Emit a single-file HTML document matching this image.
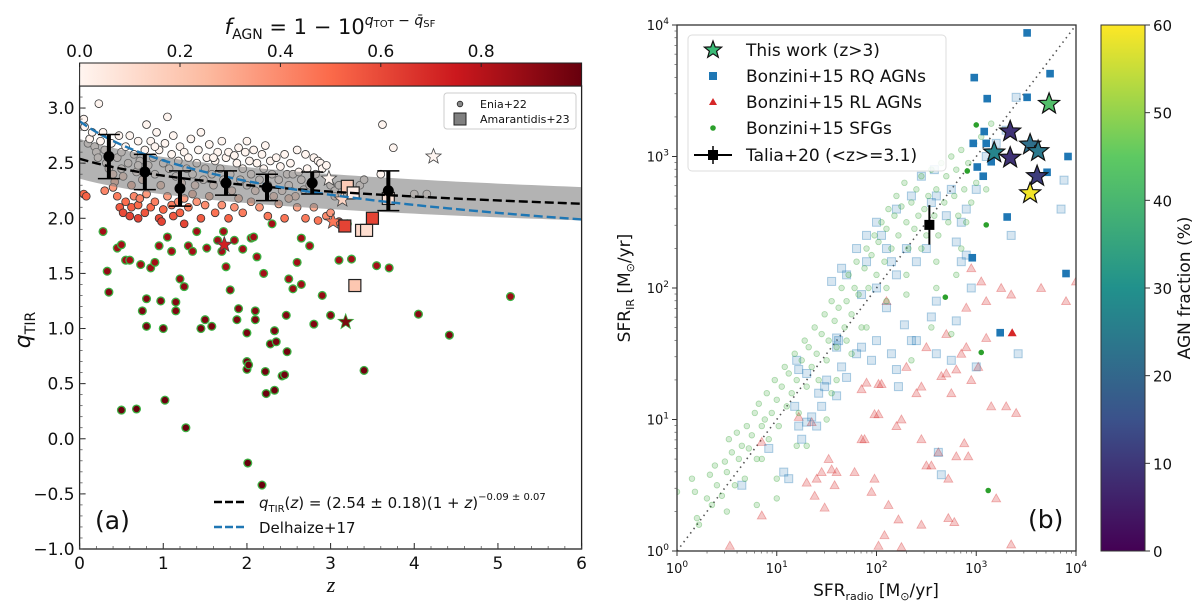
<!DOCTYPE html>
<html><head><meta charset="utf-8">
<style>
html,body{margin:0;padding:0;background:#fff;}
svg{display:block;font-family:"DejaVu Sans","Liberation Sans",sans-serif;}
</style></head>
<body>
<svg id="fig" width="1200" height="612" viewBox="0 0 1200 612" xmlns="http://www.w3.org/2000/svg">
<defs>
<linearGradient id="redsGrad" x1="0" x2="1" y1="0" y2="0">
<stop offset="0" stop-color="#fff5f0"/><stop offset="0.25" stop-color="#fcbba1"/><stop offset="0.5" stop-color="#fb6a4a"/><stop offset="0.75" stop-color="#cb181d"/><stop offset="1" stop-color="#67000d"/>
</linearGradient>
<linearGradient id="virGrad" x1="0" x2="0" y1="1" y2="0">
<stop offset="0" stop-color="#440154"/><stop offset="0.25" stop-color="#3b528b"/><stop offset="0.5" stop-color="#21918c"/><stop offset="0.75" stop-color="#5ec962"/><stop offset="1" stop-color="#fde725"/>
</linearGradient>
<clipPath id="clipA"><rect x="79.6" y="86" width="502" height="463"/></clipPath>
<clipPath id="clipB"><rect x="677" y="25" width="399" height="526"/></clipPath>
</defs>
<g id="panelA"></g>
<g id="panelB"></g>
</svg>
<script>
// ---------- Panel (a) data ----------
const cloudZ = [0.03,0.05,0.06,0.1,0.12,0.15,0.18,0.2,0.22,0.23,0.25,0.28,0.3,0.32,0.35,0.38,0.4,0.42,0.45,0.47,0.5,0.5,0.52,0.55,0.58,0.6,0.62,0.65,0.68,0.7,0.72,0.75,0.78,0.8,0.82,0.85,0.88,0.9,0.92,0.95,0.97,1.0,1.02,1.05,1.07,1.1,1.12,1.15,1.18,1.2,1.22,1.25,1.28,1.3,1.33,1.35,1.38,1.4,1.42,1.45,1.48,1.5,1.52,1.55,1.58,1.6,1.62,1.65,1.68,1.7,1.72,1.75,1.78,1.8,1.82,1.85,1.88,1.9,1.92,1.95,1.98,2.0,2.03,2.05,2.08,2.1,2.12,2.15,2.18,2.2,2.22,2.25,2.28,2.3,2.32,2.35,2.38,2.4,2.42,2.45,2.48,2.5,2.52,2.55,2.58,2.62,2.65,2.68,2.72,2.75,2.8,2.82,2.85,2.88,2.9,2.95,3.0,3.05,3.1,3.35,3.4,3.6,3.62,3.75,4.0,4.15,3.05,2.7,2.6,2.0,1.6,0.9,0.7,
0.05,0.08,0.3,0.4,0.45,0.48,0.52,0.55,0.6,0.62,0.65,0.7,0.72,0.78,0.8,0.85,0.9,0.95,1.0,1.05,1.1,1.12,1.18,1.2,1.25,1.3,1.35,1.4,1.45,1.5,1.55,1.62,1.7,1.78,1.85,1.9,1.95,2.05,2.15,2.25,2.38,2.45,2.6,2.7,2.85,2.95,3.0,3.1,2.5,2.8,1.25,0.98,0.7];
const cloudQ = [2.85,2.9,2.83,2.68,2.72,2.78,2.65,2.6,2.55,3.04,2.7,2.78,2.62,2.5,2.45,2.68,2.4,2.33,2.55,2.75,2.6,2.45,2.38,2.65,2.5,2.75,2.3,2.58,2.42,2.7,2.52,2.35,2.62,2.85,2.48,2.7,2.55,2.4,2.78,2.62,2.3,2.5,2.68,2.92,2.45,2.58,2.75,2.38,2.52,2.65,2.32,2.6,2.45,2.55,2.72,2.4,2.3,2.5,2.62,2.78,2.35,2.45,2.55,2.67,2.4,2.3,2.52,2.6,2.45,2.7,2.35,2.55,2.6,2.4,2.25,2.57,2.5,2.64,2.35,2.45,2.6,2.3,2.52,2.4,2.62,2.25,2.5,2.35,2.58,2.45,2.66,2.3,2.52,2.4,2.2,2.55,2.35,2.47,2.25,2.58,2.4,2.3,2.5,2.4,2.2,2.42,2.35,2.26,2.45,2.3,2.55,2.4,2.52,2.5,2.45,2.48,2.3,2.25,2.3,2.3,2.35,2.4,2.85,2.64,2.22,2.22,2.2,2.58,2.62,2.7,2.55,2.65,2.48,
2.22,2.2,2.25,2.28,2.2,2.1,2.05,2.15,2.02,2.1,2.2,2.12,2.18,2.05,2.22,2.1,2.15,2.0,2.08,2.2,2.12,2.02,2.15,2.05,2.18,2.1,2.22,2.15,2.0,2.12,2.2,2.05,2.12,2.0,2.1,2.18,2.05,2.15,2.1,2.02,2.13,2.0,2.1,2.0,1.98,2.02,2.05,1.97,2.18,2.1,1.95,1.97,2.0];
const agnZ = [0.28,0.33,0.35,0.45,0.5,0.55,0.5,0.68,0.75,0.8,0.73,0.8,0.85,0.9,0.95,0.97,1.0,1.02,1.05,1.1,1.15,1.15,1.2,1.25,1.27,1.3,1.35,1.45,1.5,1.52,1.58,1.65,1.7,1.72,1.75,1.8,1.88,1.9,1.95,2.0,2.0,2.0,2.02,2.01,2.05,2.1,2.1,2.12,2.18,2.2,2.22,2.23,2.28,2.33,2.33,2.35,2.42,2.45,2.47,2.48,2.5,2.55,2.6,2.65,2.75,2.8,2.9,3.0,3.1,3.2,3.25,3.4,3.55,3.7,4.05,4.42,5.15,2.3,2.65,1.4,0.6,2.08,1.85];
const agnQ = [1.88,1.52,1.33,1.73,1.76,1.62,0.26,0.27,1.16,1.02,1.58,1.27,1.55,1.6,1.75,1.25,1.0,0.35,1.83,1.7,1.16,1.24,1.45,1.38,0.1,1.75,1.7,1.0,1.08,1.73,1.02,1.8,1.7,1.88,1.56,1.35,1.08,1.18,1.72,0.96,0.7,0.63,0.67,-0.22,1.82,1.08,1.16,1.65,-0.42,1.5,0.61,0.41,0.86,0.98,0.44,0.88,0.57,0.58,1.12,0.79,1.45,1.36,1.6,1.4,1.75,1.04,1.3,1.12,1.62,1.95,1.63,0.62,1.57,1.55,1.13,0.94,1.29,1.95,1.82,1.88,1.62,1.83,1.8];
const starZ = [2.98,3.14,4.23,3.03,1.73,3.18];
const starQ = [2.36,2.17,2.56,1.97,1.76,1.06];
const sqZ = [3.2,3.27,3.17,3.5,3.37,3.43,3.29,3.69];
const sqQ = [2.29,2.23,1.93,2.0,1.89,1.89,1.39,2.18];
const sqF = [0.18,0.03,0.62,0.62,0.12,0.1,0.2,0.08];
const binZ = [0.35,0.78,1.2,1.75,2.24,2.78,3.69];
const binQ = [2.56,2.42,2.27,2.32,2.28,2.32,2.25];
const binErr = [0.2,0.16,0.16,0.11,0.12,0.1,0.18];
const fitA = 2.54, fitB = -0.09, fitErr = 0.18;
const delA = 2.88, delB = -0.19;
const xTicksA = [0,1,2,3,4,5,6];
const yTicksA = [-1.0,-0.5,0.0,0.5,1.0,1.5,2.0,2.5,3.0];
const cbTicksA = [0.0,0.2,0.4,0.6,0.8];

// ---------- Panel (b) data ----------
const sfgX = [0.0,0.15,0.18,0.2,0.22,0.3,0.35,0.33,0.38,0.4,0.45,0.48,0.5,0.52,0.55,0.58,0.6,0.62,0.65,0.68,0.7,0.72,0.75,0.78,0.8,0.82,0.85,0.88,0.9,0.92,0.95,0.98,1.0,1.02,1.05,1.08,1.1,1.12,1.15,1.18,1.2,1.22,1.25,1.28,1.3,1.32,1.35,1.38,1.4,1.42,1.45,1.48,1.5,1.52,1.55,1.58,1.6,1.62,1.65,1.68,1.7,1.72,1.75,1.78,1.8,1.82,1.85,1.88,1.9,1.92,1.95,1.98,2.0,2.02,2.05,2.08,2.1,2.12,2.15,2.18,2.2,2.22,2.25,2.28,2.3,2.32,2.35,2.38,2.4,2.42,2.45,2.48,2.5,2.52,2.55,2.58,2.6,2.62,2.65,2.68,2.7,2.72,2.75,2.78,2.8,2.82,2.85,2.88,2.9,2.92,2.95,2.98,3.0,3.05,3.1,3.15,1.0,1.3,1.5,1.6,1.75,1.9,2.1,2.3,2.45,2.6,2.85,2.75,2.8,2.3,1.55,0.5,0.8,1.0,0.85,2.35,2.55,2.6,1.2,2.1,1.7];
const sfgY = [0.45,0.55,0.45,0.25,0.2,0.4,0.35,0.58,0.65,0.5,0.42,0.68,0.6,0.85,0.75,0.5,0.9,0.7,0.8,0.55,0.95,0.78,0.88,1.05,0.7,1.12,0.95,1.0,1.2,0.85,1.05,1.3,1.15,0.95,1.25,1.4,1.1,1.35,1.2,1.5,1.3,1.05,1.45,1.6,1.25,1.55,1.4,1.7,1.5,1.3,1.65,1.8,1.45,1.6,1.9,1.75,1.55,1.85,2.0,1.7,1.9,2.1,1.8,2.0,2.2,1.95,1.7,2.15,2.3,2.0,2.25,2.4,2.1,2.35,2.5,2.2,2.45,2.6,2.3,2.55,2.7,2.4,2.62,2.8,2.5,2.3,2.65,2.45,2.75,2.55,2.85,2.6,2.4,2.7,2.9,2.55,2.75,2.4,2.95,2.65,2.85,2.5,3.0,2.7,2.9,2.55,3.05,2.75,2.5,2.95,2.65,3.1,2.8,3.15,2.75,3.25,0.55,0.8,1.0,1.3,1.5,1.7,1.9,2.1,2.3,2.2,2.3,1.65,2.1,1.95,1.2,0.3,0.35,0.4,0.7,1.45,1.7,2.0,0.8,2.0,1.6];
const rqX = [0.65,0.92,1.07,1.12,1.22,1.25,1.3,1.35,1.4,1.18,1.2,1.22,1.48,1.5,1.6,1.6,1.62,1.65,1.3,1.42,1.45,1.6,1.7,1.8,1.85,1.95,2.0,2.2,2.22,2.15,2.28,2.35,2.4,2.6,2.75,3.0,3.42,2.65,2.62,1.8,1.9,2.0,1.65,1.7,1.55,1.9,2.05,2.1,2.15,2.2,2.3,2.4,2.5,2.6,2.7,2.8,2.75,2.55,2.85,2.9,3.0,3.1,3.2,3.3,3.4,3.35,3.85,3.88,2.85,2.95,2.1,2.0,1.85,2.2,2.45,2.35,2.58,2.55,2.6,2.8,2.9];
const rqY = [0.5,0.78,0.6,0.55,0.95,0.85,0.98,1.02,0.95,1.1,1.45,1.38,1.25,1.3,1.55,1.62,1.6,1.4,1.35,1.2,1.1,1.18,1.32,1.5,1.55,1.45,1.6,1.38,1.25,1.5,1.72,1.6,1.6,1.5,1.45,1.4,1.5,0.58,0.75,2.3,2.4,2.5,2.15,2.1,2.05,2.2,2.4,2.3,2.2,2.1,2.3,2.2,2.3,2.7,2.55,2.35,2.75,2.65,2.5,2.6,2.75,3.0,3.1,3.2,3.45,2.4,2.6,2.82,2.2,2.0,1.85,2.0,1.95,2.6,2.85,2.7,2.9,1.78,1.9,1.75,2.25];
const rlX = [0.53,0.85,0.85,1.22,1.35,1.52,1.55,1.58,1.6,1.38,1.4,1.45,1.3,1.85,1.88,1.78,1.98,1.95,1.98,2.02,2.05,2.02,2.08,2.12,2.22,1.85,2.02,2.2,1.9,2.25,2.4,2.45,2.45,2.5,2.55,2.62,2.65,2.7,2.75,2.8,2.85,2.9,2.95,3.02,3.1,2.78,2.8,2.92,2.88,2.72,2.72,3.2,3.3,3.4,3.15,2.45,2.1,2.3,2.5,2.7,2.9,3.1,3.25,3.35,3.65,3.9,4.0,3.05,2.95,3.35,2.25,1.48];
const rlY = [0.04,0.27,0.83,1.02,0.98,0.7,0.62,0.5,0.6,0.42,0.55,0.6,0.52,0.85,0.85,0.6,0.55,0.45,1.04,1.27,1.27,0.04,0.12,0.35,0.24,1.23,1.04,0.95,1.28,1.0,1.2,1.25,0.85,0.65,0.65,0.75,1.33,1.35,1.2,1.38,1.5,1.55,1.3,1.4,1.62,0.22,0.72,0.72,0.82,0.25,0.55,0.4,1.1,1.05,1.1,0.2,1.9,1.4,1.55,1.65,1.85,1.9,2.0,1.95,2.0,1.9,2.05,2.05,2.15,0.05,0.03,0.33];
const rqSolidX = [3.51,3.74,2.98,3.11,3.51,3.08,2.97,3.1,3.01,3.07,3.15,3.71,3.92,3.31,2.96,3.9,3.24];
const rqSolidY = [3.94,3.63,3.60,3.44,3.45,3.19,3.10,3.10,2.92,2.85,2.96,2.88,3.0,2.54,2.23,2.11,1.66];
const rlSolidX = [3.36];
const rlSolidY = [1.66];
const sfgSolidX = [3.0,2.91,3.1,2.69,3.05,3.12];
const sfgSolidY = [3.24,2.89,2.48,1.93,1.51,0.46];
const twX = [3.73,3.34,3.18,3.54,3.62,3.34,3.61,3.54];
const twY = [3.40,3.19,3.03,3.09,3.04,2.99,2.85,2.72];
const twFrac = [42,9,27,22,24,9,11,59];
const taliaX = [2.53];
const taliaY = [2.48];
const taliaErr = [0.15];
const xTicksB = [0,1,2,3,4];
const yTicksB = [0,1,2,3,4];
const cbTicksB = [0,10,20,30,40,50,60];

// ---------- helpers ----------
const NS = "http://www.w3.org/2000/svg";
function mk(tag, attrs, parent){const e=document.createElementNS(NS,tag);for(const k in attrs)e.setAttribute(k,attrs[k]);parent.appendChild(e);return e;}
function lerpHex(a,b,t){const pa=[1,3,5].map(i=>parseInt(a.substr(i,2),16)),pb=[1,3,5].map(i=>parseInt(b.substr(i,2),16));return "rgb("+pa.map((v,i)=>Math.round(v+(pb[i]-v)*t)).join(",")+")";}
function cmap(stops,t){t=Math.max(0,Math.min(1,t));const n=stops.length-1;const i=Math.min(n-1,Math.floor(t*n));return lerpHex(stops[i],stops[i+1],t*n-i);}
const REDS=["#fff5f0","#fcbba1","#fb6a4a","#cb181d","#67000d"];
const VIR=["#440154","#3b528b","#21918c","#5ec962","#fde725"];
function starPts(cx,cy,R){const r=R*0.42;let p=[];for(let i=0;i<10;i++){const a=-Math.PI/2+i*Math.PI/5;const rr=i%2?r:R;p.push((cx+rr*Math.cos(a)).toFixed(1)+","+(cy+rr*Math.sin(a)).toFixed(1));}return p.join(" ");}

// ---------- Panel A ----------
const A = document.getElementById("panelA");
const axL=79.6, axR=581.6, axT=86, axB=549;
const xA = z => axL + (z-0)/(6-0)*(axR-axL);
const yA = q => axB - (q-(-1.0))/(3.2-(-1.0))*(axB-axT);
const qbar = z => fitA*Math.pow(1+z,fitB);
const fagn = (z,q) => Math.max(0, 1-Math.pow(10, q-qbar(z)));

mk("rect",{x:axL,y:axT,width:axR-axL,height:axB-axT,fill:"#fff"},A);
const gA = mk("g",{"clip-path":"url(#clipA)"},A);



const agnG = mk("g",{},gA);


agnZ.forEach((z,i)=>{
  const c=mk("circle",{cx:xA(z),cy:yA(agnQ[i]),r:3.9,fill:cmap(REDS,Math.max(fagn(z,agnQ[i]),0.85)),stroke:"#3cb043","stroke-width":1.3},agnG);
  
  
});
const cloudG = mk("g",{},gA);


cloudZ.forEach((z,i)=>{
  const c=mk("circle",{cx:xA(z),cy:yA(cloudQ[i]),r:3.9,fill:cmap(REDS,fagn(z,cloudQ[i])),stroke:"#333","stroke-width":0.8},cloudG);
  
  
});
let up=[],lo=[];
for(let k=0;k<=60;k++){const z=k*0.1;const s=Math.pow(1+z,fitB);up.push(xA(z)+","+yA((fitA+fitErr)*s));lo.unshift(xA(z)+","+yA((fitA-fitErr)*s));}
const band=mk("polygon",{points:up.concat(lo).join(" "),fill:"#808080","fill-opacity":0.6},gA);


starZ.forEach((z,i)=>{
  const f=fagn(z,starQ[i]);
  const s=mk("polygon",{points:starPts(xA(z),yA(starQ[i]),8),fill:i===5?"#7a0a10":cmap(REDS,f),stroke:i===5?"#3cb043":"#444","stroke-width":0.8},gA);
  
  
});
sqZ.forEach((z,i)=>{
  const s=mk("rect",{x:xA(z)-6,y:yA(sqQ[i])-6,width:12,height:12,fill:cmap(REDS,sqF[i]),stroke:"#222","stroke-width":1.2},gA);
  
  
});
let fitPts=[],delPts=[];
for(let k=0;k<=60;k++){const z=k*0.1;fitPts.push(xA(z)+","+yA(fitA*Math.pow(1+z,fitB)));delPts.push(xA(z)+","+yA(delA*Math.pow(1+z,delB)));}
const fl=mk("polyline",{points:fitPts.join(" "),fill:"none",stroke:"#000","stroke-width":2.4,"stroke-dasharray":"9 4"},gA);


const dl=mk("polyline",{points:delPts.join(" "),fill:"none",stroke:"#1f77b4","stroke-width":2.4,"stroke-dasharray":"9 4"},gA);


binZ.forEach((z,i)=>{
  const g=mk("g",{},gA);
  
  
  const x=xA(z),y1=yA(binQ[i]+binErr[i]),y2=yA(binQ[i]-binErr[i]);
  mk("line",{x1:x,x2:x,y1:y1,y2:y2,stroke:"#000","stroke-width":4},g);
  mk("line",{x1:x-11,x2:x+11,y1:y1,y2:y1,stroke:"#000","stroke-width":1.5},g);
  mk("line",{x1:x-11,x2:x+11,y1:y2,y2:y2,stroke:"#000","stroke-width":1.5},g);
  mk("circle",{cx:x,cy:yA(binQ[i]),r:5.5,fill:"#000"},g);
});
const frA=mk("rect",{x:axL,y:axT,width:axR-axL,height:axB-axT,fill:"none",stroke:"#222","stroke-width":1.3},A);


xTicksA.forEach(t=>{
  mk("line",{x1:xA(t),x2:xA(t),y1:axB,y2:axB-6,stroke:"#222"},A);
  const l=mk("text",{x:xA(t),y:axB+20,"font-size":17,"text-anchor":"middle",fill:"#111"},A);l.textContent=String(t);
  
  
});
for(let k=0;k<=30;k++){const z=k*0.2;mk("line",{x1:xA(z),x2:xA(z),y1:axB,y2:axB-3,stroke:"#444","stroke-width":0.7},A);}
yTicksA.forEach(t=>{
  mk("line",{x1:axL,x2:axL+6,y1:yA(t),y2:yA(t),stroke:"#222"},A);
  const l=mk("text",{x:axL-5,y:yA(t)+6,"font-size":17,"text-anchor":"end",fill:"#111"},A);l.textContent=t.toFixed(1).replace("-","\u2212");
  
  
});
for(let k=0;k<=42;k++){const q=-1+k*0.1;mk("line",{x1:axL,x2:axL+3,y1:yA(q),y2:yA(q),stroke:"#444","stroke-width":0.7},A);}
const cbA=mk("rect",{x:axL,y:63,width:axR-axL,height:23,fill:"url(#redsGrad)",stroke:"#222","stroke-width":1},A);


cbTicksA.forEach(t=>{
  const x=axL+t*(axR-axL);
  mk("line",{x1:x,x2:x,y1:63,y2:67,stroke:"#222"},A);
  const l=mk("text",{x:x,y:57,"font-size":17,"text-anchor":"middle",fill:"#111"},A);l.textContent=t.toFixed(1);
  
  
});
const cbT=mk("text",{x:330,y:34,"font-size":21,"text-anchor":"middle",fill:"#111"},A);
cbT.innerHTML='<tspan font-style="italic">f</tspan><tspan font-size="14" dy="5">AGN</tspan><tspan dy="-5"> = 1 \u2212 10</tspan><tspan font-size="14" dy="-9" font-style="italic">q</tspan><tspan font-size="10" dy="2">TOT</tspan><tspan font-size="14" dy="-2"> \u2212 </tspan><tspan font-size="14" font-style="italic">q\u0304</tspan><tspan font-size="10" dy="2">SF</tspan>';


const yt=mk("text",{transform:"translate(30,330) rotate(-90)","font-size":22,"text-anchor":"middle",fill:"#111"},A);
yt.innerHTML='<tspan font-style="italic">q</tspan><tspan font-size="14" dy="5">TIR</tspan>';


const xt=mk("text",{x:331,y:592,"font-size":22,"font-style":"italic","text-anchor":"middle",fill:"#111","font-family":"Liberation Serif, serif"},A);
xt.textContent="z";


const lg=mk("g",{},A);


mk("rect",{x:444,y:93,width:132,height:36,rx:3,fill:"#fff",stroke:"#ccc"},lg);
mk("circle",{cx:460,cy:104,r:2.8,fill:"#888",stroke:"#222","stroke-width":0.8},lg);
const l1=mk("text",{x:480,y:108,"font-size":11,fill:"#111"},lg);l1.textContent="Enia+22";


mk("rect",{x:454,y:113,width:12,height:12,fill:"#808080",stroke:"#222"},lg);
const l2=mk("text",{x:480,y:123,"font-size":11,fill:"#111"},lg);l2.textContent="Amarantidis+23";


const lb=mk("g",{},A);


mk("line",{x1:214,x2:246,y1:502,y2:502,stroke:"#000","stroke-width":2.4,"stroke-dasharray":"8 3"},lb);
const t1=mk("text",{x:259,y:508,"font-size":15,fill:"#111"},lb);
t1.innerHTML='<tspan font-style="italic">q</tspan><tspan font-size="10" dy="4">TIR</tspan><tspan dy="-4">(</tspan><tspan font-style="italic">z</tspan><tspan>) = (2.54 \u00b1 0.18)(1 + </tspan><tspan font-style="italic">z</tspan><tspan>)</tspan><tspan font-size="10" dy="-8">\u22120.09 \u00b1 0.07</tspan>';


mk("line",{x1:214,x2:246,y1:527,y2:527,stroke:"#1f77b4","stroke-width":2.4,"stroke-dasharray":"8 3"},lb);
const t2=mk("text",{x:259,y:533,"font-size":15,fill:"#111"},lb);t2.textContent="Delhaize+17";


const pa=mk("text",{x:95,y:529,"font-size":25,fill:"#111"},A);pa.textContent="(a)";



// ---------- Panel B ----------
const B=document.getElementById("panelB");
const bL=677,bR=1076,bT=25,bB=551;
const xB=v=>bL+(v-0)/4*(bR-bL);
const yB=v=>bB-(v-0)/4*(bB-bT);
mk("rect",{x:bL,y:bT,width:bR-bL,height:bB-bT,fill:"#fff"},B);
const gB=mk("g",{"clip-path":"url(#clipB)"},B);


const one=mk("line",{x1:xB(0),y1:yB(0),x2:xB(4),y2:yB(4),stroke:"#555","stroke-width":1.6,"stroke-dasharray":"1.5 4"},gB);


rlX.forEach((x,i)=>{
  const cx=xB(x),cy=yB(rlY[i]);
  const t=mk("polygon",{points:`${cx},${cy-4.5} ${cx-4.5},${cy+3.5} ${cx+4.5},${cy+3.5}`,fill:"#d62728","fill-opacity":0.25,stroke:"#d62728","stroke-opacity":0.35,"stroke-width":0.8},gB);
  
  
});
rqX.forEach((x,i)=>{
  const s=mk("rect",{x:xB(x)-4,y:yB(rqY[i])-4,width:8,height:8,fill:"#1f77b4","fill-opacity":0.18,stroke:"#1f77b4","stroke-opacity":0.35,"stroke-width":1},gB);
  
  
});
sfgX.forEach((x,i)=>{
  const c=mk("circle",{cx:xB(x),cy:yB(sfgY[i]),r:2.8,fill:"#2ca02c","fill-opacity":0.2,stroke:"#2ca02c","stroke-opacity":0.35,"stroke-width":0.8},gB);
  
  
});
rqSolidX.forEach((x,i)=>{
  const s=mk("rect",{x:xB(x)-3.8,y:yB(rqSolidY[i])-3.8,width:7.6,height:7.6,fill:"#1f77b4"},gB);
  
  
});
rlSolidX.forEach((x,i)=>{
  const cx=xB(x),cy=yB(rlSolidY[i]);
  const t=mk("polygon",{points:`${cx},${cy-4.5} ${cx-4.5},${cy+3.5} ${cx+4.5},${cy+3.5}`,fill:"#d62728"},gB);
  
  
});
sfgSolidX.forEach((x,i)=>{
  const c=mk("circle",{cx:xB(x),cy:yB(sfgSolidY[i]),r:2.8,fill:"#2ca02c"},gB);
  
  
});
taliaX.forEach((x,i)=>{
  const g=mk("g",{},gB);
  
  
  const cx=xB(x),cy=yB(taliaY[i]);
  mk("line",{x1:cx,x2:cx,y1:yB(taliaY[i]+taliaErr[i]),y2:yB(taliaY[i]-taliaErr[i]),stroke:"#000","stroke-width":2},g);
  mk("rect",{x:cx-5,y:cy-5,width:10,height:10,fill:"#000"},g);
});
twX.forEach((x,i)=>{
  const s=mk("polygon",{points:starPts(xB(x),yB(twY[i]),11),fill:cmap(VIR,twFrac[i]/60),stroke:"#111","stroke-width":1.2},gB);
  
  
});
const frB=mk("rect",{x:bL,y:bT,width:bR-bL,height:bB-bT,fill:"none",stroke:"#333","stroke-width":1.3},B);


xTicksB.forEach(t=>{
  mk("line",{x1:xB(t),x2:xB(t),y1:bB,y2:bB+5,stroke:"#333"},B);
  for(let m=2;m<10&&t<4;m++){const v=t+Math.log10(m);mk("line",{x1:xB(v),x2:xB(v),y1:bB,y2:bB+2.5,stroke:"#555","stroke-width":0.7},B);}
  const l=mk("text",{x:xB(t),y:bB+22,"font-size":13,"text-anchor":"middle",fill:"#111"},B);
  l.innerHTML='10<tspan font-size="9" dy="-6">'+t+'</tspan>';
  
  
});
yTicksB.forEach(t=>{
  mk("line",{x1:bL,x2:bL-5,y1:yB(t),y2:yB(t),stroke:"#333"},B);
  for(let m=2;m<10&&t<4;m++){const v=t+Math.log10(m);mk("line",{x1:bL,x2:bL-2.5,y1:yB(v),y2:yB(v),stroke:"#555","stroke-width":0.7},B);}
  const l=mk("text",{x:bL-8,y:yB(t)+5,"font-size":13,"text-anchor":"end",fill:"#111"},B);
  l.innerHTML='10<tspan font-size="9" dy="-6">'+t+'</tspan>';
  
  
});
const ybt=mk("text",{transform:"translate(630,288) rotate(-90)","font-size":17,"text-anchor":"middle",fill:"#111"},B);
ybt.innerHTML='SFR<tspan font-size="11" dy="4">IR</tspan><tspan dy="-4"> [M</tspan><tspan font-size="11" dy="4">\u2299</tspan><tspan dy="-4">/yr]</tspan>';


const xbt=mk("text",{x:876,y:596,"font-size":17,"text-anchor":"middle",fill:"#111"},B);
xbt.innerHTML='SFR<tspan font-size="11" dy="4">radio</tspan><tspan dy="-4"> [M</tspan><tspan font-size="11" dy="4">\u2299</tspan><tspan dy="-4">/yr]</tspan>';


const pb=mk("text",{x:1028,y:528,"font-size":25,fill:"#111"},B);pb.textContent="(b)";


const lgB=mk("g",{},B);


mk("rect",{x:688,y:35,width:258,height:136,rx:4,fill:"#fff","fill-opacity":0.85,stroke:"#ddd"},lgB);
const legTexts=["This work (z>3)","Bonzini+15 RQ AGNs","Bonzini+15 RL AGNs","Bonzini+15 SFGs","Talia+20 (<z>=3.1)"];
const legY=[50,76,102,128,155];
mk("polygon",{points:starPts(713,legY[0],9),fill:"#3aba76",stroke:"#111","stroke-width":1.2},lgB);
mk("rect",{x:709,y:legY[1]-4,width:8,height:8,fill:"#1f77b4"},lgB);
mk("polygon",{points:`713,${legY[2]-4} 709,${legY[2]+3} 717,${legY[2]+3}`,fill:"#d62728"},lgB);
mk("circle",{cx:713,cy:legY[3],r:2.8,fill:"#2ca02c"},lgB);
mk("line",{x1:694,x2:732,y1:legY[4],y2:legY[4],stroke:"#000","stroke-width":2},lgB);
mk("line",{x1:713,x2:713,y1:legY[4]-9,y2:legY[4]+9,stroke:"#000","stroke-width":1.5},lgB);
mk("rect",{x:708,y:legY[4]-5,width:10,height:10,fill:"#000"},lgB);
legTexts.forEach((s,i)=>{
  const t=mk("text",{x:746,y:legY[i]+6,"font-size":17,fill:"#111"},lgB);t.textContent=s;
  
  
});
const cbB=mk("rect",{x:1101,y:bT,width:44,height:bB-bT,fill:"url(#virGrad)",stroke:"#333","stroke-width":1},B);


cbTicksB.forEach(t=>{
  const y=bB-(t/60)*(bB-bT);
  mk("line",{x1:1145,x2:1150,y1:y,y2:y,stroke:"#333"},B);
  const l=mk("text",{x:1153,y:y+6,"font-size":15,fill:"#111"},B);l.textContent=String(t);
  
  
});
const cbtB=mk("text",{transform:"translate(1190,288) rotate(-90)","font-size":17,"text-anchor":"middle",fill:"#111"},B);cbtB.textContent="AGN fraction (%)";


</script>
</body></html>
